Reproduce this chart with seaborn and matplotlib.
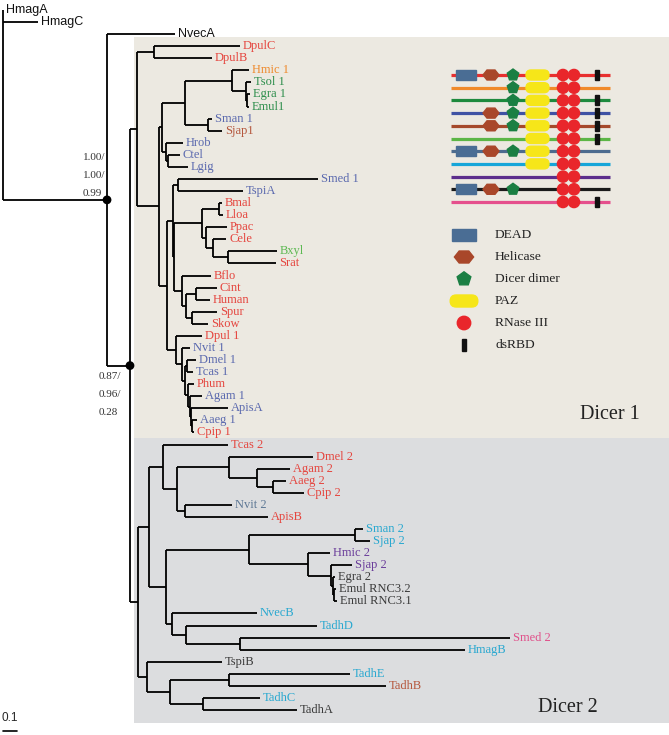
import numpy as np
import pandas as pd
import matplotlib
matplotlib.use("Agg")
import matplotlib.pyplot as plt
from matplotlib.collections import LineCollection
from matplotlib.patches import Rectangle, FancyBboxPatch, RegularPolygon, Circle, Polygon
import seaborn as sns

# tree topology + branch lengths (substitutions/site), split by clade
outgroup = "HmagA:0,HmagC:0.25"
dicer1_protostomes = ("(((Hmic 1:0.121,(Tsol 1:0.036,(Egra 1:0.021,Emul1:0.014):0.007):0.1):0.336,"
                      "(Sman 1:0.029,Sjap1:0.1):0.164):0.164,(Hrob:0.121,(Ctel:0.086,Lgig:0.143):0.014):0.029)")
dicer1_nematodes = "((Bmal:0.021,Lloa:0.029):0.121,(Ppac:0.15,(Cele:0.093,(Bxyl:0.35,Srat:0.343):0.107):0.05):0.029)"
dicer1_deuterostomes = "(Bflo:0.207,((Cint:0.15,Human:0.1):0.071,(Spur:0.179,Skow:0.114):0.043):0.029)"
dicer1_insects = ("(Dpul 1:0.186,(Nvit 1:0.057,((Dmel 1:0.064,Tcas 1:0.043):0.014,(Phum:0.043,"
                  "(Agam 1:0.086,(ApisA:0.264,(Aaeg 1:0.036,Cpip 1:0.014):0.007):0.007):0.014):0.021):0.021):0.043)")
dicer2_insects = ("(Tcas 2:0.464,((Dmel 2:0.6,(Agam 2:0.236,(Aaeg 2:0.093,Cpip 2:0.221):0.114):0.2):0.371,"
                  "(Nvit 2:0.336,ApisB:0.593):0.057):0.1)")
dicer2_platy = ("((Sman 2:0.057,Sjap 2:0.107):0.757,(Hmic 2:0.157,(Sjap 2:0.15,(Egra 2:0.014,"
                "(Emul RNC3.2:0.014,Emul RNC3.1:0.021):0.007):0.014):0.164):0.421)")
dicer2_basal = "(NvecB:0.607,(TadhD:0.936,(Smed 2:1.929,HmagB:1.607):0.386):0.1)"
dicer2_tadh = "(TspiB:0.536,((TadhE:0.864,TadhB:1.121):0.421,(TadhC:0.407,TadhA:0.671):0.236):0.164)"

dicer1 = ("((DpulC:0.614,DpulB:0.414):0.121,(" + dicer1_protostomes + ":0.021,(((Smed 1:1.0,TspiA:0.464):0.036,("
          + dicer1_nematodes + ":0.2," + dicer1_deuterostomes + ":0.057):0.007):0.043,"
          + dicer1_insects + ":0.064):0.057):0.157)")
dicer2 = ("((" + dicer2_insects + ":0.1,(" + dicer2_platy + ":0.593," + dicer2_basal + ":0.043):0.121):0.079,"
          + dicer2_tadh + ":0.064)")
newick = ("(" + outgroup + ",(NvecA:0.486,(" + dicer1 + ":0.05," + dicer2
          + ":0.057)0.87/0.96/0.28:0.164)1.00/1.00/0.99:0.743);")

RED, ORANGE, GREEN, LGREEN = "#E5453E", "#EE8A2D", "#2E8E4C", "#5DB952"
LAV, BROWN, SLATE, CYAN = "#5A69AE", "#B5573D", "#5E7895", "#29A8D0"
PURPLE, DARK, PINK, BLACK = "#6A3D9A", "#3A3A3A", "#E0508A", "#111111"
leaf_colors = [BLACK, BLACK, BLACK, RED, RED, ORANGE, GREEN, GREEN, GREEN, LAV, BROWN, LAV, LAV, LAV,
               LAV, LAV, RED, RED, RED, RED, LGREEN, RED, RED, RED, RED, RED, RED, RED, LAV, LAV, LAV,
               RED, LAV, LAV, LAV, RED, RED, RED, RED, RED, RED, SLATE, RED, CYAN, CYAN, PURPLE, PURPLE,
               DARK, DARK, DARK, CYAN, CYAN, PINK, CYAN, DARK, CYAN, BROWN, CYAN, DARK]
sans_leaves = ["HmagA", "HmagC", "NvecA"]

# domain architecture panel
domain_names = ["DEAD", "Helicase", "Dicer dimer", "PAZ", "RNase III", "dsRBD"]
domain_colors = ["#4A6D94", "#A9472A", "#1B7F43", "#F6E619", "#E9262B", "#111111"]
row_colors = ["#E8302F", "#F08A2A", "#1E8A3E", "#3F52A4", "#A5492B", "#5CB646",
              "#4D6C8F", "#16A6D9", "#5C2E8C", "#1A1A1A", "#E5508D"]
row_domains = [
    ["DEAD", "Helicase", "Dicer dimer", "PAZ", "RNase III", "dsRBD"],
    ["Dicer dimer", "PAZ", "RNase III"],
    ["Dicer dimer", "PAZ", "RNase III", "dsRBD"],
    ["Helicase", "Dicer dimer", "PAZ", "RNase III", "dsRBD"],
    ["Helicase", "Dicer dimer", "PAZ", "RNase III", "dsRBD"],
    ["PAZ", "RNase III", "dsRBD"],
    ["DEAD", "Helicase", "Dicer dimer", "PAZ", "RNase III"],
    ["PAZ", "RNase III"],
    ["RNase III"],
    ["DEAD", "Helicase", "Dicer dimer", "RNase III"],
    ["RNase III", "dsRBD"],
]


def parse_newick(s):
    pos = 0

    def node():
        nonlocal pos
        children = []
        if s[pos] == "(":
            pos += 1
            while True:
                children.append(node())
                if s[pos] == ",":
                    pos += 1
                    continue
                pos += 1
                break
        start = pos
        while pos < len(s) and s[pos] not in ":,();":
            pos += 1
        name = s[start:pos].strip()
        length = 0.0
        if pos < len(s) and s[pos] == ":":
            pos += 1
            start = pos
            while s[pos] not in ",();":
                pos += 1
            length = float(s[start:pos])
        return {"name": name, "children": children, "length": length}

    return node()


tree = parse_newick(newick)
leaves, segs, internals = [], [], []


def layout(nd, x0):
    x = x0 + nd["length"]
    nd["x"] = x
    if not nd["children"]:
        nd["y"] = len(leaves)
        leaves.append(nd)
    else:
        for c in nd["children"]:
            layout(c, x)
        ys = [c["y"] for c in nd["children"]]
        nd["y"] = (ys[0] + ys[-1]) / 2
        segs.append([(x, ys[0]), (x, ys[-1])])
        if nd["name"]:
            internals.append(nd)
    segs.append([(x0, nd["y"]), (x, nd["y"])])


layout(tree, 0.0)

W, H = 669, 735
PX = 140.0      # px per unit branch length
ROW = 12.07     # px per leaf row
X0, Y0 = 3, 10


def dx(p):
    return p / PX


def dy(p):
    return p / ROW


sns.set_theme(style="white")
plt.rcParams["font.family"] = ["Liberation Serif", "DejaVu Serif"]

fig = plt.figure(figsize=(W / 100, H / 100), dpi=100)
ax = fig.add_axes([0, 0, 1, 1])
ax.set_xlim(-X0 / PX, (W - X0) / PX)
ax.set_ylim((H - Y0) / ROW, -Y0 / ROW)
ax.axis("off")

names = [lf["name"] for lf in leaves]
d1_top, d1_bot = names.index("DpulC"), names.index("Cpip 1")
d2_bot = names.index("TadhA")
split = [n for n in internals if n["name"].startswith("0.87")][0]
box_left = split["x"] + dx(4)
box_right = (W - X0) / PX
ax.add_patch(Rectangle((box_left, d1_top - 0.75), box_right - box_left, d1_bot - d1_top + 1.25,
                       facecolor="#ECE9E1", edgecolor="none", zorder=0))
ax.add_patch(Rectangle((box_left, d1_bot + 0.5), box_right - box_left, d2_bot - d1_bot + 0.6,
                       facecolor="#DCDDDF", edgecolor="none", zorder=0))

ax.add_collection(LineCollection(segs, colors="black", linewidths=1.3, zorder=2, capstyle="butt"))

for lf, col in zip(leaves, leaf_colors):
    if lf["name"] in sans_leaves:
        ax.text(lf["x"] + dx(3), lf["y"], lf["name"], color=col, fontsize=9,
                family="Liberation Sans", va="center", ha="left")
    else:
        ax.text(lf["x"] + dx(3), lf["y"], lf["name"], color=col, fontsize=9, va="center", ha="left")

# supported nodes
nodes_df = pd.DataFrame({"x": [n["x"] for n in internals], "y": [n["y"] for n in internals],
                         "support": [n["name"] for n in internals]})
sns.scatterplot(data=nodes_df, x="x", y="y", color="black", s=40, edgecolor="none", zorder=4,
                legend=False, ax=ax)
for i, r in nodes_df.iterrows():
    parts = r["support"].split("/")
    lines = [p + "/" for p in parts[:-1]] + [parts[-1]]
    if i == nodes_df["y"].idxmin():
        xs, ys = r["x"] - dx(24), [r["y"] - dy(42), r["y"] - dy(24), r["y"] - dy(6)]
    else:
        xs, ys = r["x"] - dx(31), [r["y"] + dy(11), r["y"] + dy(29), r["y"] + dy(47)]
    for t, yy in zip(lines, ys):
        ax.text(xs, yy, t, fontsize=8, color="#333333", va="center", ha="left")

ax.text(box_right - dx(29), d1_bot - 1.5, "Dicer 1", fontsize=14.5, color="#222222", ha="right", va="center")
ax.text(box_right - dx(71), d2_bot - 0.25, "Dicer 2", fontsize=14.5, color="#222222", ha="right", va="center")

# scale bar
ax.plot([0, 0.1], [dy(731 - Y0)] * 2, color="black", lw=1.2)
ax.text(0.05, dy(718 - Y0), "0.1", fontsize=8.5, family="Liberation Sans", ha="center", va="center")

# domain panel (pixel units)
ax2 = fig.add_axes([440 / W, 1 - 360 / H, 180 / W, 300 / H])
ax2.set_xlim(440, 620)
ax2.set_ylim(360, 60)
ax2.axis("off")
ax2.patch.set_alpha(0)
cmap = dict(zip(domain_names, domain_colors))


def draw_domain(a, name, x, y, scale=1.0):
    c = cmap[name]
    if name == "DEAD":
        w, h = 20 * scale, 10 * scale
        a.add_patch(Rectangle((x - w / 2, y - h / 2), w, h, color=c, zorder=3))
    elif name == "Helicase":
        w, h = 16 * scale, 10 * scale
        a.add_patch(Polygon([(x - w / 2, y), (x - w / 4, y - h / 2), (x + w / 4, y - h / 2), (x + w / 2, y),
                             (x + w / 4, y + h / 2), (x - w / 4, y + h / 2)], color=c, zorder=3))
    elif name == "Dicer dimer":
        a.add_patch(RegularPolygon((x, y), 5, radius=6 * scale, orientation=np.pi, color=c, zorder=3))
    elif name == "PAZ":
        w, h = 23 * scale, 10 * scale
        a.add_patch(FancyBboxPatch((x - w / 2, y - h / 2), w, h, boxstyle=f"round,pad=0,rounding_size={h / 2}",
                                   color=c, zorder=3))
    elif name == "RNase III":
        a.add_patch(Circle((x, y), 5.6 * scale, color=c, zorder=3))
    else:
        a.add_patch(Rectangle((x - 2 * scale, y - 5 * scale), 4 * scale, 10 * scale, color=c, zorder=3))


dom_x = {"DEAD": 466, "Helicase": 491, "Dicer dimer": 513, "PAZ": 537.5, "dsRBD": 597}
for i, (col, doms) in enumerate(zip(row_colors, row_domains)):
    y = 75 + i * 12.7
    ax2.plot([451, 610], [y, y], color=col, lw=2.3, zorder=2, solid_capstyle="butt")
    for d in doms:
        if d == "RNase III":
            draw_domain(ax2, d, 563, y)
            draw_domain(ax2, d, 574, y)
        else:
            draw_domain(ax2, d, dom_x[d], y)

for i, d in enumerate(domain_names):
    y = 235 + i * 22
    draw_domain(ax2, d, 464, y, scale=1.2)
    ax2.text(495, y, d, fontsize=9.7, color="#222222", va="center", ha="left")

fig.savefig("out.png", dpi=100)
